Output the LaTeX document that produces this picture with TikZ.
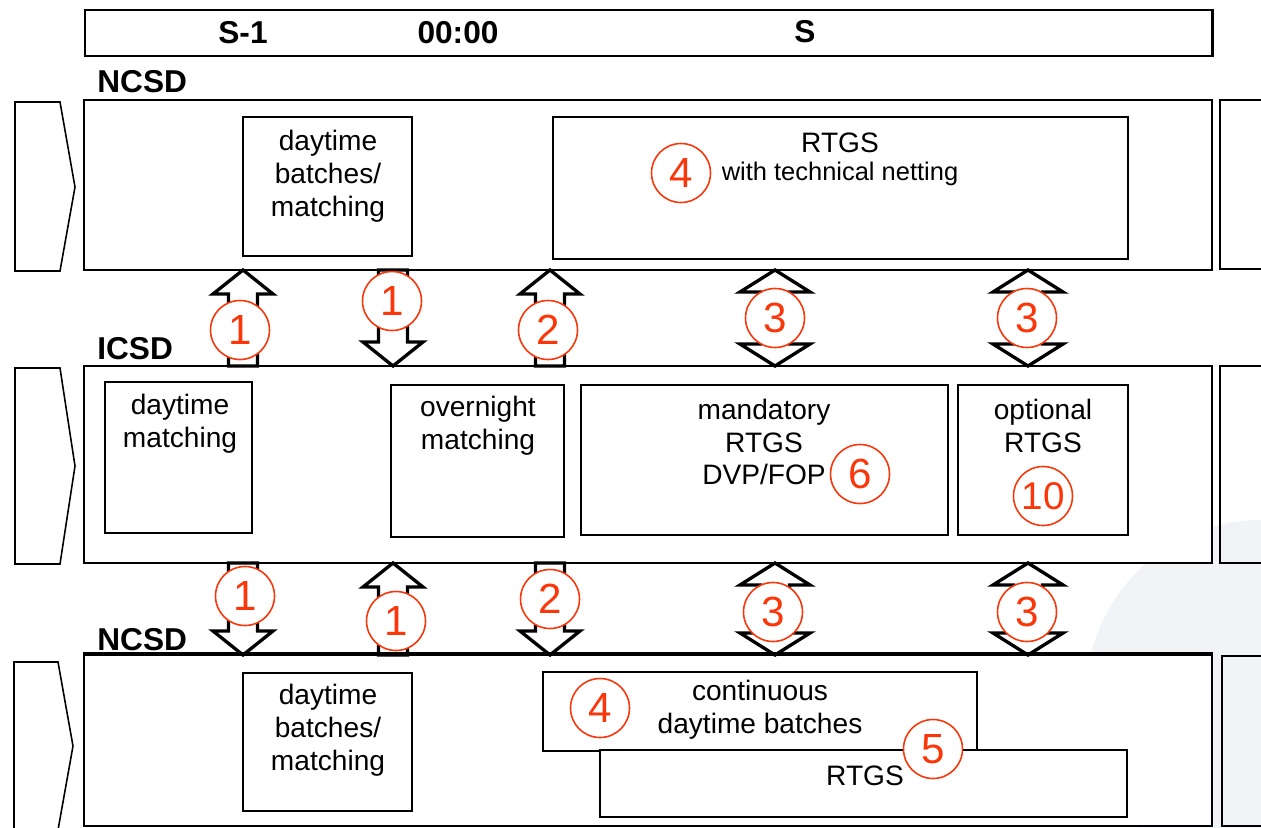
\documentclass[tikz,border=0pt]{standalone}
\usepackage{fontspec}
\setmainfont{Liberation Sans}
\usetikzlibrary{fit}
\definecolor{numred}{RGB}{250,55,10}
\definecolor{wm}{RGB}{242,243,247}
\begin{document}
\begin{tikzpicture}[x=0.02cm,y=-0.02cm,
  panel/.style={draw, fill=white, line width=1.1pt, inner sep=0pt},
  sidebox/.style={draw, line width=1.1pt, inner sep=0pt},
  ibox/.style={draw, fill=white, line width=0.85pt, inner sep=0pt},
  btxt/.style={font=\fontsize{16}{18.7}\selectfont, align=center, inner sep=0pt},
  stxt/.style={font=\fontsize{14.5}{17}\selectfont, inner sep=0pt},
  hdr/.style={font=\fontsize{18}{20}\selectfont\bfseries, inner sep=0pt},
  num/.style={circle, draw=numred, fill=white, line width=0.9pt, minimum size=1.18cm, inner sep=0pt, text=numred, font=\fontsize{24}{24}\selectfont},
  blockarrow/.style={draw, fill=white, line width=1.9pt, line join=miter},
  chev/.style={draw, line width=0.9pt},
  pics/uparrow/.style={code={\draw[blockarrow] (0,0) -- (30,24) -- (14.5,24) -- (14.5,#1) -- (-14.5,#1) -- (-14.5,24) -- (-30,24) -- cycle;}},
  pics/downarrow/.style={code={\draw[blockarrow] (-14.5,0) -- (14.5,0) -- (14.5,{#1-24}) -- (30,{#1-24}) -- (0,#1) -- (-30,{#1-24}) -- (-14.5,{#1-24}) -- cycle;}},
  pics/dblarrow/.style={code={\draw[blockarrow] (0,0) -- (35,22) -- (14.5,22) -- (14.5,{#1-22}) -- (35,{#1-22}) -- (0,#1) -- (-35,{#1-22}) -- (-14.5,{#1-22}) -- (-14.5,22) -- (-35,22) -- cycle;}}
]
\useasboundingbox (0,0) rectangle (1261,828);
\clip (0,0) rectangle (1261,828);
\fill[white] (0,0) rectangle (1261,828);
% faint watermark
\fill[wm] (1260,700) ellipse [x radius=3.5cm, y radius=3.6cm];

% time bar
\node[fit={(85,10)(1212,56)}, draw, line width=1.7pt, inner sep=0pt] (timebar) {};
\node[hdr] (tS1) at (243,33) {S-1};
\node[hdr] (tMid) at (458,33) {00:00};
\node[hdr] (tS) at (805,32) {S};

% panel labels
\node[hdr, anchor=west] (lab1) at (97,82) {NCSD};
\node[hdr, anchor=west] (lab2) at (97,349) {ICSD};
\node[hdr, anchor=west] (lab3) at (97,640) {NCSD};

% panels
\node[panel, fit={(84,100)(1212,270)}] (p1) {};
\node[panel, fit={(84,366)(1212,563)}] (p2) {};
\node[panel, fit={(84,655)(1212,826)}] (p3) {};

% right partial boxes
\node[sidebox, fit={(1220,100)(1275,269)}] (r1) {};
\node[sidebox, fit={(1220,366)(1275,563)}] (r2) {};
\node[sidebox, fit={(1222,656)(1275,826)}] (r3) {};

% left chevrons
\draw[chev] (15,102) -- (60,102) -- (75,187) -- (60,271) -- (15,271) -- cycle;
\draw[chev] (15,368) -- (60,368) -- (75,466) -- (60,564) -- (15,564) -- cycle;
\draw[chev] (14,662) -- (58,662) -- (73,746) -- (58,830) -- (14,830) -- cycle;

% inner boxes
\node[ibox, fit={(243,117)(412,256)}] (b1) {};
\node[ibox, fit={(553,117)(1128,259)}] (b2) {};
\node[ibox, fit={(105,382)(252,533)}] (c1) {};
\node[ibox, fit={(391,385)(564,537)}] (c2) {};
\node[ibox, fit={(581,385)(948,535)}] (c3) {};
\node[ibox, fit={(958,385)(1128,535)}] (c4) {};
\node[ibox, fit={(243,673)(412,811)}] (d1) {};
\node[ibox, fit={(543,672)(977,751)}] (d2) {};
\node[ibox, fit={(600,750)(1127,817)}] (d3) {};

% texts
\node[btxt] (tb1) at (328,176) {daytime\\batches/\\matching};
\node[btxt] (tb2) at (840,143) {RTGS};
\node[stxt] (tb2b) at (840,174) {with technical netting};
\node[btxt] (tc1) at (180,424) {daytime\\matching};
\node[btxt] (tc2) at (478,426) {overnight\\matching};
\node[btxt] (tc3) at (764,442) {mandatory\\RTGS\\DVP/FOP};
\node[btxt] (tc4) at (1043,426) {optional\\RTGS};
\node[btxt] (td1) at (328,730) {daytime\\batches/\\matching};
\node[btxt] (td2) at (760,710) {continuous\\daytime batches};
\node[btxt] (td3) at (865,776) {RTGS};

% block arrows between NCSD and ICSD
\pic at (243,270) {uparrow=96};
\pic at (393,270) {downarrow=96};
\pic at (550,270) {uparrow=96};
\pic at (775,270) {dblarrow=96};
\pic at (1028,270) {dblarrow=96};
% block arrows between ICSD and NCSD
\pic at (243,563) {downarrow=92};
\pic at (393,563) {uparrow=92};
\pic at (550,563) {downarrow=92};
\pic at (775,563) {dblarrow=92};
\pic at (1028,563) {dblarrow=92};

\draw[line width=2.3pt] (p3.north west) -- (p3.north east);

% numbered circles
\node[num] (n4a) at (681,173) {4};
\node[num] (n6) at (860,474) {6};
\node[num, font=\fontsize{22}{22}\selectfont] (n10) at (1043,496) {10};
\node[num] (n4b) at (600,708) {4};
\node[num] (n5) at (933,749) {5};
\node[num] (g1a) at (240,330) {1};
\node[num] (g1b) at (392,301) {1};
\node[num] (g1c) at (548,330) {2};
\node[num] (g1d) at (775,318) {3};
\node[num] (g1e) at (1027,318) {3};
\node[num] (g2a) at (245,596) {1};
\node[num] (g2b) at (396,621) {1};
\node[num] (g2c) at (550,599) {2};
\node[num] (g2d) at (773,612) {3};
\node[num] (g2e) at (1027,612) {3};
\end{tikzpicture}
\end{document}
